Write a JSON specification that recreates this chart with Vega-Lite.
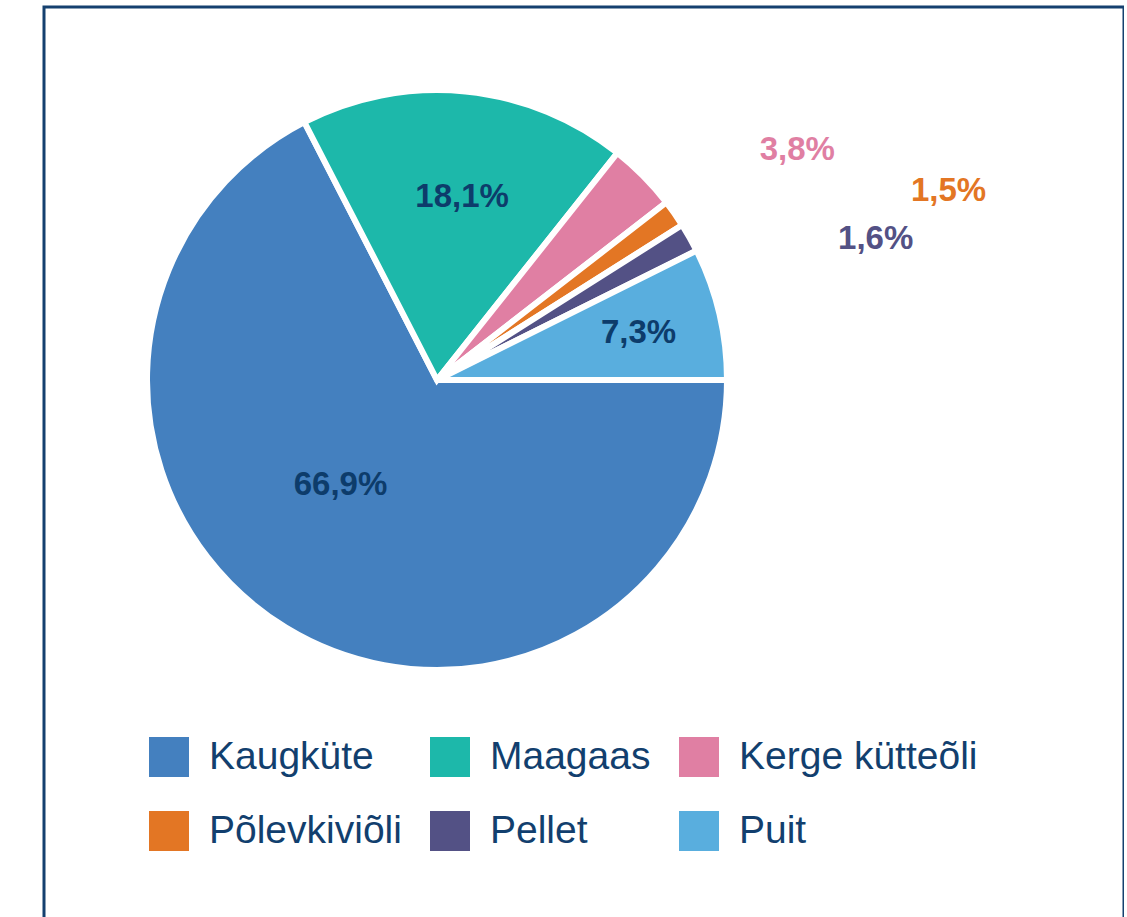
{
  "$schema": "https://vega.github.io/schema/vega-lite/v6.json",
  "width": 1080,
  "height": 940,
  "autosize": {"type": "none"},
  "padding": {"left": 44, "top": 7, "right": 0, "bottom": 0},
  "background": "white",
  "view": {"stroke": "#15406F", "strokeWidth": 3, "fill": "white"},
  "config": {
    "style": {"view": {"stroke": "#15406F", "strokeWidth": 3}},
    "font": "Liberation Sans"
  },
  "data": {
    "values": [
      {"k": "Kaugküte", "v": 66.9, "o": 1, "lbl": "66,9%"},
      {"k": "Maagaas", "v": 18.1, "o": 2, "lbl": "18,1%"},
      {"k": "Kerge kütteõli", "v": 3.8, "o": 3, "lbl": "3,8%"},
      {"k": "Põlevkiviõli", "v": 1.5, "o": 4, "lbl": "1,5%"},
      {"k": "Pellet", "v": 1.6, "o": 5, "lbl": "1,6%"},
      {"k": "Puit", "v": 7.3, "o": 6, "lbl": "7,3%"}
    ]
  },
  "encoding": {
    "theta": {"field": "v", "type": "quantitative", "stack": true, "scale": {"range": [1.5708, 7.854]}},
    "order": {"field": "o", "type": "quantitative"},
    "color": {
      "field": "k",
      "type": "nominal",
      "sort": ["Kaugküte", "Maagaas", "Kerge kütteõli", "Põlevkiviõli", "Pellet", "Puit"],
      "scale": {
        "domain": ["Kaugküte", "Maagaas", "Kerge kütteõli", "Põlevkiviõli", "Pellet", "Puit"],
        "range": ["#4480BF", "#1DB8AA", "#E07FA3", "#E37624", "#535185", "#59AEDE"]
      },
      "legend": {
        "orient": "none",
        "direction": "horizontal",
        "legendX": 105,
        "legendY": 730,
        "columns": 3,
        "title": null,
        "symbolType": "square",
        "symbolSize": 1600,
        "symbolStrokeWidth": 0,
        "symbolOpacity": 1,
        "labelFontSize": 39,
        "labelColor": "#123F6E",
        "labelFont": "Liberation Sans",
        "labelLimit": 500,
        "labelOffset": 20,
        "columnPadding": 28,
        "rowPadding": 34,
        "gridAlign": "each",
        "padding": 0,
        "offset": 0
      }
    }
  },
  "layer": [
    {"mark": {"type": "arc", "radius": 290, "stroke": "white", "strokeWidth": 6, "x": 393, "y": 373}},
    {
      "mark": {"type": "text", "radius": 143, "dx": -22, "dy": -17, "x": 393, "y": 373, "fontSize": 33, "fontWeight": "bold", "align": "center", "baseline": "middle"},
      "encoding": {"text": {"condition": {"test": "datum.k === 'Kaugküte'", "field": "lbl"}, "value": ""}, "color": {"value": "#0D3C6B"}}
    },
    {
      "mark": {"type": "text", "radius": 185, "dx": 7, "dy": 1, "x": 393, "y": 373, "fontSize": 33, "fontWeight": "bold", "align": "center", "baseline": "middle"},
      "encoding": {"text": {"condition": {"test": "datum.k === 'Maagaas'", "field": "lbl"}, "value": ""}, "color": {"value": "#0D3C6B"}}
    },
    {
      "mark": {"type": "text", "radius": 207, "dx": 0, "dy": 0, "x": 393, "y": 373, "fontSize": 33, "fontWeight": "bold", "align": "center", "baseline": "middle"},
      "encoding": {"text": {"condition": {"test": "datum.k === 'Puit'", "field": "lbl"}, "value": ""}, "color": {"value": "#0D3C6B"}}
    },
    {
      "mark": {"type": "text", "radius": 290, "dx": 154, "dy": -26, "x": 393, "y": 373, "fontSize": 33, "fontWeight": "bold", "align": "center", "baseline": "middle"},
      "encoding": {"text": {"condition": {"test": "datum.k === 'Kerge kütteõli'", "field": "lbl"}, "value": ""}}
    },
    {
      "mark": {"type": "text", "radius": 290, "dx": 274, "dy": -23, "x": 393, "y": 373, "fontSize": 33, "fontWeight": "bold", "align": "center", "baseline": "middle"},
      "encoding": {"text": {"condition": {"test": "datum.k === 'Põlevkiviõli'", "field": "lbl"}, "value": ""}}
    },
    {
      "mark": {"type": "text", "radius": 290, "dx": 186, "dy": 1, "x": 393, "y": 373, "fontSize": 33, "fontWeight": "bold", "align": "center", "baseline": "middle"},
      "encoding": {"text": {"condition": {"test": "datum.k === 'Pellet'", "field": "lbl"}, "value": ""}}
    }
  ]
}
